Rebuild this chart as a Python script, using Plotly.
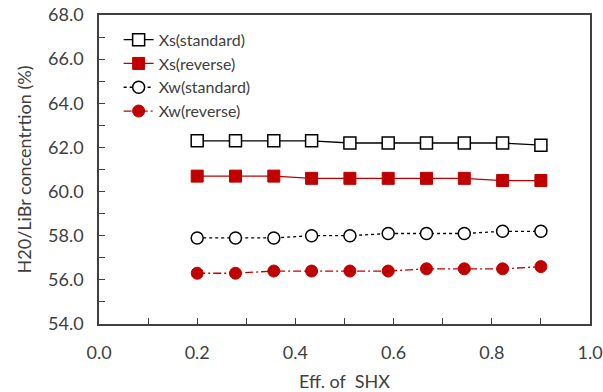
import plotly.graph_objects as go

eff = [0.2, 0.278, 0.356, 0.433, 0.511, 0.589, 0.667, 0.744, 0.822, 0.9]
xs_standard = [62.3, 62.3, 62.3, 62.3, 62.2, 62.2, 62.2, 62.2, 62.2, 62.1]
xs_reverse = [60.7, 60.7, 60.7, 60.6, 60.6, 60.6, 60.6, 60.6, 60.5, 60.5]
xw_standard = [57.9, 57.9, 57.9, 58.0, 58.0, 58.1, 58.1, 58.1, 58.2, 58.2]
xw_reverse = [56.3, 56.3, 56.4, 56.4, 56.4, 56.4, 56.5, 56.5, 56.5, 56.6]

RED = "#C00000"
BLK = "#000000"
TXT = "#404040"
FONT = "Lato"

fig = go.Figure()
fig.add_trace(go.Scatter(x=eff, y=xs_standard, name="Xs(standard)", mode="lines+markers",
                         line=dict(color=BLK, width=1.3),
                         marker=dict(symbol="square", size=12, color="white", line=dict(color=BLK, width=1.5))))
fig.add_trace(go.Scatter(x=eff, y=xs_reverse, name="Xs(reverse)", mode="lines+markers",
                         line=dict(color=RED, width=1.3),
                         marker=dict(symbol="square", size=12, color=RED, line=dict(color=RED, width=1))))
fig.add_trace(go.Scatter(x=eff, y=xw_standard, name="Xw(standard)", mode="lines+markers",
                         line=dict(color=BLK, width=1.3, dash="3px,3px"),
                         marker=dict(symbol="circle", size=12, color="white", line=dict(color=BLK, width=1.5))))
fig.add_trace(go.Scatter(x=eff, y=xw_reverse, name="Xw(reverse)", mode="lines+markers",
                         line=dict(color=RED, width=1.3, dash="8px,3px,2px,3px"),
                         marker=dict(symbol="circle", size=12, color=RED, line=dict(color=RED, width=1))))

fig.update_layout(
    width=603, height=392,
    margin=dict(l=99, r=13, t=15, b=68),
    paper_bgcolor="white", plot_bgcolor="white",
    font=dict(family=FONT, size=16, color=TXT),
    showlegend=True,
    legend=dict(x=0.04, y=0.975, xanchor="left", yanchor="top",
                bgcolor="rgba(0,0,0,0)", font=dict(family=FONT, size=16, color=TXT),
                tracegroupgap=0, itemwidth=30),
)
fig.update_xaxes(range=[0, 1.0], dtick=0.2, tickformat=".1f", automargin=False,
                 showline=True, linecolor=TXT, linewidth=1.5, mirror=True,
                 ticks="inside", ticklen=6, tickcolor=TXT, tickwidth=1.3,
                 minor=dict(dtick=0.1, ticks="inside", ticklen=6, tickcolor=TXT, tickwidth=1.3, showgrid=False),
                 showgrid=False, zeroline=False, ticklabelstandoff=12, ticklabeloverflow="allow",
                 title=dict(text="Eff. of&nbsp; SHX", font=dict(family=FONT, size=18, color=TXT), standoff=14),
                 tickfont=dict(family=FONT, size=18, color=TXT))
fig.update_yaxes(range=[54, 68], dtick=2, tickformat=".1f", automargin=False,
                 showline=True, linecolor=TXT, linewidth=1.5, mirror=True,
                 ticks="inside", ticklen=6, tickcolor=TXT, tickwidth=1.3,
                 minor=dict(dtick=1, ticks="inside", ticklen=6, tickcolor=TXT, tickwidth=1.3, showgrid=False),
                 showgrid=False, zeroline=False, ticklabelstandoff=10, ticklabeloverflow="allow",
                 title=dict(text="H20/LiBr concentrtion (%)", font=dict(family=FONT, size=18, color=TXT), standoff=12),
                 tickfont=dict(family=FONT, size=18, color=TXT))

fig.write_html("out.html")
